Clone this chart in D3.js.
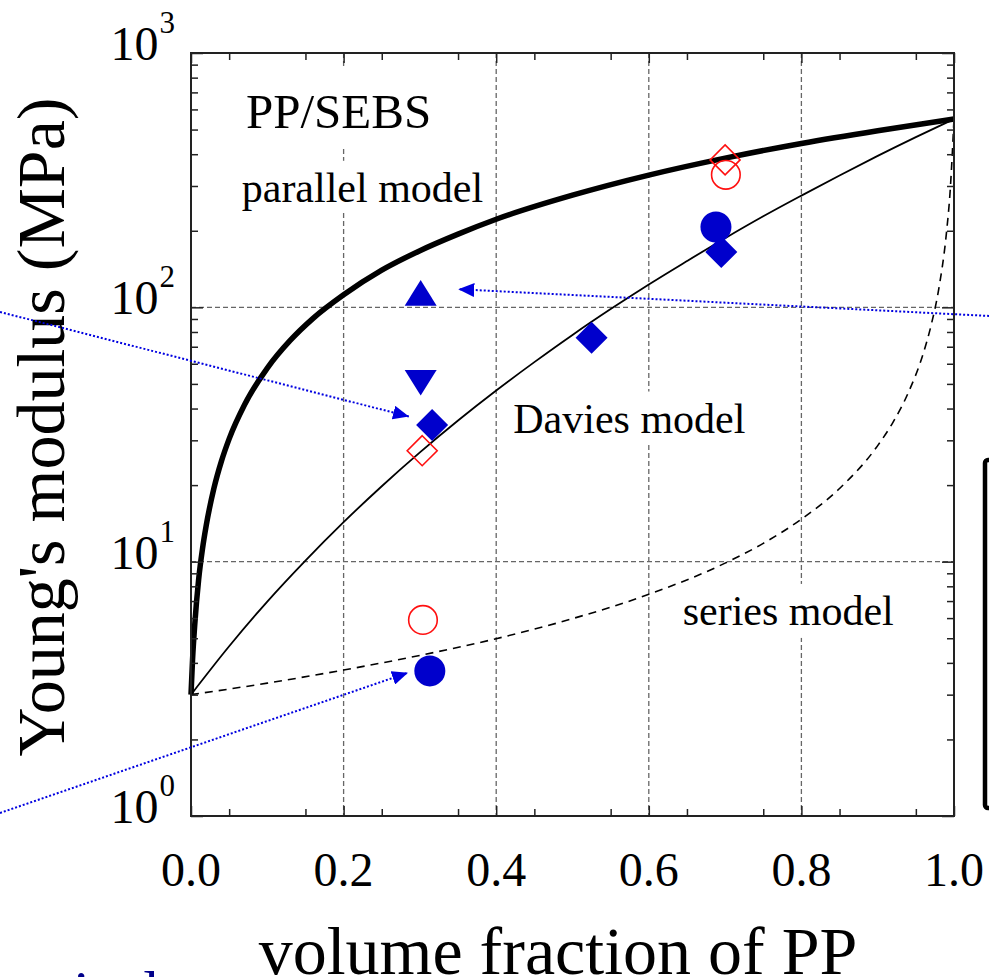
<!DOCTYPE html>
<html>
<head>
<meta charset="utf-8">
<script src="https://cdn.jsdelivr.net/npm/d3@7"></script>
<style>
	body { margin: 0; background: #fff; }
	svg { display: block; font-family: "Liberation Serif", "Times New Roman", serif; }
</style>
</head>
<body>
<div id="chart"></div>
<script>
// ---- data ----
var parallelPhi = [0, 0.002, 0.005, 0.01, 0.015, 0.02, 0.03, 0.04, 0.05, 0.07, 0.1, 0.13, 0.16, 0.2, 0.25, 0.3, 0.35, 0.4, 0.5, 0.6, 0.7, 0.8, 0.9, 1.0];
var parallelE = [3.0, 4.1, 5.7, 8.5, 11.2, 13.9, 19.4, 24.9, 30.4, 41.3, 57.7, 74.1, 90.5, 112, 140, 167, 194, 222, 276, 331, 386, 441, 495, 550];

var daviesPhi = [0, 0.05, 0.1, 0.15, 0.2, 0.25, 0.3, 0.35, 0.4, 0.45, 0.5, 0.55, 0.6, 0.65, 0.7, 0.75, 0.8, 0.85, 0.9, 0.95, 1.0];
var daviesE = [3.0, 4.65, 6.97, 10.1, 14.3, 19.8, 26.9, 35.9, 47.1, 60.9, 77.9, 98.4, 123, 152, 187, 228, 275, 330, 394, 467, 550];

var seriesPhi = [0, 0.1, 0.2, 0.3, 0.4, 0.5, 0.6, 0.7, 0.75, 0.8, 0.85, 0.9, 0.92, 0.94, 0.96, 0.97, 0.98, 0.99, 0.995, 1.0];
var seriesE = [3.0, 3.33, 3.75, 4.28, 4.98, 5.97, 7.44, 9.87, 11.8, 14.7, 19.4, 28.6, 35.3, 46.1, 66.3, 85.0, 118, 195, 288, 550];

var blueCircles = [[0.688, 207], [0.313, 3.72]];
var blueDiamonds = [[0.316, 34.5], [0.525, 76], [0.695, 165]];
var blueTriUp = [[0.301, 114]];
var blueTriDown = [[0.301, 50.5]];
var redCircles = [[0.304, 5.9], [0.701, 332]];
var redDiamonds = [[0.303, 27.3], [0.700, 380]];

var xMajorTicks = [0, 0.2, 0.4, 0.6, 0.8, 1.0];
var xTickLabels = ["0.0", "0.2", "0.4", "0.6", "0.8", "1.0"];
var xMinorTicks = [0.05, 0.15, 0.25, 0.35, 0.45, 0.55, 0.65, 0.75, 0.85, 0.95];
var xGrid = [0.2, 0.4, 0.6, 0.8];
var yDecades = [1, 10, 100, 1000];
var yExponents = ["0", "1", "2", "3"];
var yGrid = [10, 100];

var annotationTexts = ["PP/SEBS", "parallel model", "Davies model", "series model"];

// ---- layout ----
var W = 989, H = 977;
var plot = { left: 191, top: 53, size: 763 };

var svg = d3.select("#chart").append("svg")
	.attr("width", W)
	.attr("height", H);

var x = d3.scaleLinear().domain([0, 1]).range([plot.left, plot.left + plot.size]);
var y = d3.scaleLog().domain([1, 1000]).range([plot.top + plot.size, plot.top]);

// grid
var grid = svg.append("g")
	.attr("stroke", "#666")
	.attr("stroke-width", 1.3)
	.attr("stroke-dasharray", "5,3");
grid.selectAll("line.gx").data(xGrid).enter().append("line")
	.attr("class", "gx")
	.attr("x1", function(d) { return x(d); })
	.attr("x2", function(d) { return x(d); })
	.attr("y1", y(1000))
	.attr("y2", y(1));
grid.selectAll("line.gy").data(yGrid).enter().append("line")
	.attr("class", "gy")
	.attr("x1", x(0))
	.attr("x2", x(1))
	.attr("y1", function(d) { return y(d); })
	.attr("y2", function(d) { return y(d); });

// annotation labels with white boxes (they hide the grid)
var annotationPos = [
	{ x: 0.072, y: 506, size: 49, padTop: 16, padBottom: 8 },
	{ x: 0.0665, y: 260, size: 42, padTop: 4, padBottom: 2 },
	{ x: 0.4224, y: 32.2, size: 42, padTop: 4, padBottom: 2 },
	{ x: 0.6444, y: 5.64, size: 42, padTop: 4, padBottom: 4 }
];
var annG = svg.append("g");
annotationTexts.forEach(function(t, i) {
	var p = annotationPos[i];
	var g = annG.append("g");
	var txt = g.append("text")
		.attr("x", x(p.x))
		.attr("y", y(p.y))
		.attr("font-size", p.size)
		.attr("fill", "#000")
		.text(t);
	var bb = txt.node().getBBox();
	g.insert("rect", "text")
		.attr("x", bb.x - 4)
		.attr("y", bb.y - p.padTop)
		.attr("width", bb.width + 8)
		.attr("height", bb.height + p.padTop + p.padBottom)
		.attr("fill", "#fff");
});

// model curves
var line = d3.line()
	.x(function(d) { return x(d[0]); })
	.y(function(d) { return y(d[1]); })
	.curve(d3.curveMonotoneX);

var zip = function(a, b) { return a.map(function(v, i) { return [v, b[i]]; }); };

svg.append("path")
	.datum(zip(seriesPhi, seriesE))
	.attr("d", line)
	.attr("fill", "none")
	.attr("stroke", "#000")
	.attr("stroke-width", 1.6)
	.attr("stroke-dasharray", "8,6");

svg.append("path")
	.datum(zip(daviesPhi, daviesE))
	.attr("d", line)
	.attr("fill", "none")
	.attr("stroke", "#000")
	.attr("stroke-width", 1.8);

svg.append("path")
	.datum(zip(parallelPhi, parallelE))
	.attr("d", line)
	.attr("fill", "none")
	.attr("stroke", "#000")
	.attr("stroke-width", 5.5);

// markers
var shapes = {
	circle: function(r) { return d3.symbol(d3.symbolCircle, Math.PI * r * r)(); },
	diamond: function(r) { return "M0," + (-r) + "L" + r + ",0L0," + r + "L" + (-r) + ",0Z"; },
	up: function(r) { return "M0," + (-r * 0.8) + "L" + r + "," + (r * 0.8) + "L" + (-r) + "," + (r * 0.8) + "Z"; },
	down: function(r) { return "M" + (-r) + "," + (-r * 0.8) + "L" + r + "," + (-r * 0.8) + "L0," + (r * 0.8) + "Z"; }
};
var blue = "#0000cc", red = "#ff1010";

var drawMarkers = function(data, shape, r, filled, color) {
	svg.append("g").selectAll("path").data(data).enter().append("path")
		.attr("transform", function(d) { return "translate(" + x(d[0]) + "," + y(d[1]) + ")"; })
		.attr("d", shapes[shape](r))
		.attr("fill", filled ? color : "none")
		.attr("stroke", color)
		.attr("stroke-width", filled ? 0 : 1.6);
};
drawMarkers(redCircles, "circle", 14.3, false, red);
drawMarkers(redDiamonds, "diamond", 15, false, red);
drawMarkers(blueCircles, "circle", 15.5, true, blue);
drawMarkers(blueDiamonds, "diamond", 16, true, blue);
drawMarkers(blueTriUp, "up", 16, true, blue);
drawMarkers(blueTriDown, "down", 16, true, blue);

// frame and ticks (all inward)
svg.append("rect")
	.attr("x", x(0)).attr("y", y(1000))
	.attr("width", x(1) - x(0)).attr("height", y(1) - y(1000))
	.attr("fill", "none")
	.attr("stroke", "#222")
	.attr("stroke-width", 2);

var yMinor = y.ticks().filter(function(v) { return yDecades.indexOf(v) < 0; });

var tickAxis = function(axis, values, size, tx, ty) {
	var g = svg.append("g")
		.attr("transform", "translate(" + tx + "," + ty + ")")
		.call(axis.tickValues(values).tickSize(size).tickSizeOuter(0).tickFormat(""));
	g.select(".domain").remove();
	g.selectAll(".tick line").attr("stroke", "#222").attr("stroke-width", 1.5);
};
tickAxis(d3.axisBottom(x), xMajorTicks, -10, 0, y(1));
tickAxis(d3.axisBottom(x), xMinorTicks, -7, 0, y(1));
tickAxis(d3.axisTop(x), xMajorTicks, -10, 0, y(1000));
tickAxis(d3.axisTop(x), xMinorTicks, -7, 0, y(1000));
tickAxis(d3.axisLeft(y), yDecades, -12, x(0), 0);
tickAxis(d3.axisLeft(y), yMinor, -7, x(0), 0);
tickAxis(d3.axisRight(y), yDecades, -12, x(1), 0);
tickAxis(d3.axisRight(y), yMinor, -7, x(1), 0);

// tick labels
svg.append("g").selectAll("text").data(xMajorTicks).enter().append("text")
	.attr("x", function(d) { return x(d); })
	.attr("y", y(1) + 70)
	.attr("text-anchor", "middle")
	.attr("font-size", 48)
	.text(function(d, i) { return xTickLabels[i]; });

var yl = svg.append("g").selectAll("text").data(yDecades).enter().append("text")
	.attr("x", x(0) - 16)
	.attr("y", function(d) { return y(d) + 7; })
	.attr("text-anchor", "end")
	.attr("font-size", 48);
yl.append("tspan").text("10");
yl.append("tspan")
	.attr("dx", 1)
	.attr("dy", -27)
	.attr("font-size", 31)
	.text(function(d, i) { return yExponents[i]; });

// axis titles
svg.append("text")
	.attr("transform", "translate(64," + 427 + ") rotate(-90)")
	.attr("text-anchor", "middle")
	.attr("font-size", 68)
	.text("Young's modulus (MPa)");

svg.append("text")
	.attr("x", 558)
	.attr("y", 974)
	.attr("text-anchor", "middle")
	.attr("font-size", 68)
	.text("volume fraction of PP");

// cut-off pieces of the surrounding slide
svg.append("text")
	.attr("x", -20)
	.attr("y", 1012)
	.attr("font-size", 60)
	.attr("fill", "#00008b")
	.text("vertical");

svg.append("rect")
	.attr("x", 985).attr("y", 460)
	.attr("width", 40).attr("height", 348)
	.attr("rx", 3)
	.attr("fill", "none")
	.attr("stroke", "#000")
	.attr("stroke-width", 4.5);

// dotted blue arrows
var arrowFrom = [[-0.2503, 95.9], [1.046, 92.5], [-0.2503, 1.028]];
var arrowTo = [[0.2857, 37.2], [0.3503, 117.8], [0.2844, 3.66]];
var arrowBlue = "#0000e0";

svg.append("defs").append("marker")
	.attr("id", "head")
	.attr("viewBox", "0 0 16 14")
	.attr("refX", 16).attr("refY", 7)
	.attr("markerWidth", 16).attr("markerHeight", 14)
	.attr("markerUnits", "userSpaceOnUse")
	.attr("orient", "auto")
	.append("path")
	.attr("d", "M0,0L16,7L0,14Z")
	.attr("fill", arrowBlue);

svg.append("g").selectAll("line").data(arrowFrom).enter().append("line")
	.attr("x1", function(d) { return x(d[0]); })
	.attr("y1", function(d) { return y(d[1]); })
	.attr("x2", function(d, i) { return x(arrowTo[i][0]); })
	.attr("y2", function(d, i) { return y(arrowTo[i][1]); })
	.attr("stroke", arrowBlue)
	.attr("stroke-width", 2)
	.attr("stroke-dasharray", "2,2")
	.attr("marker-end", "url(#head)");
</script>
</body>
</html>
